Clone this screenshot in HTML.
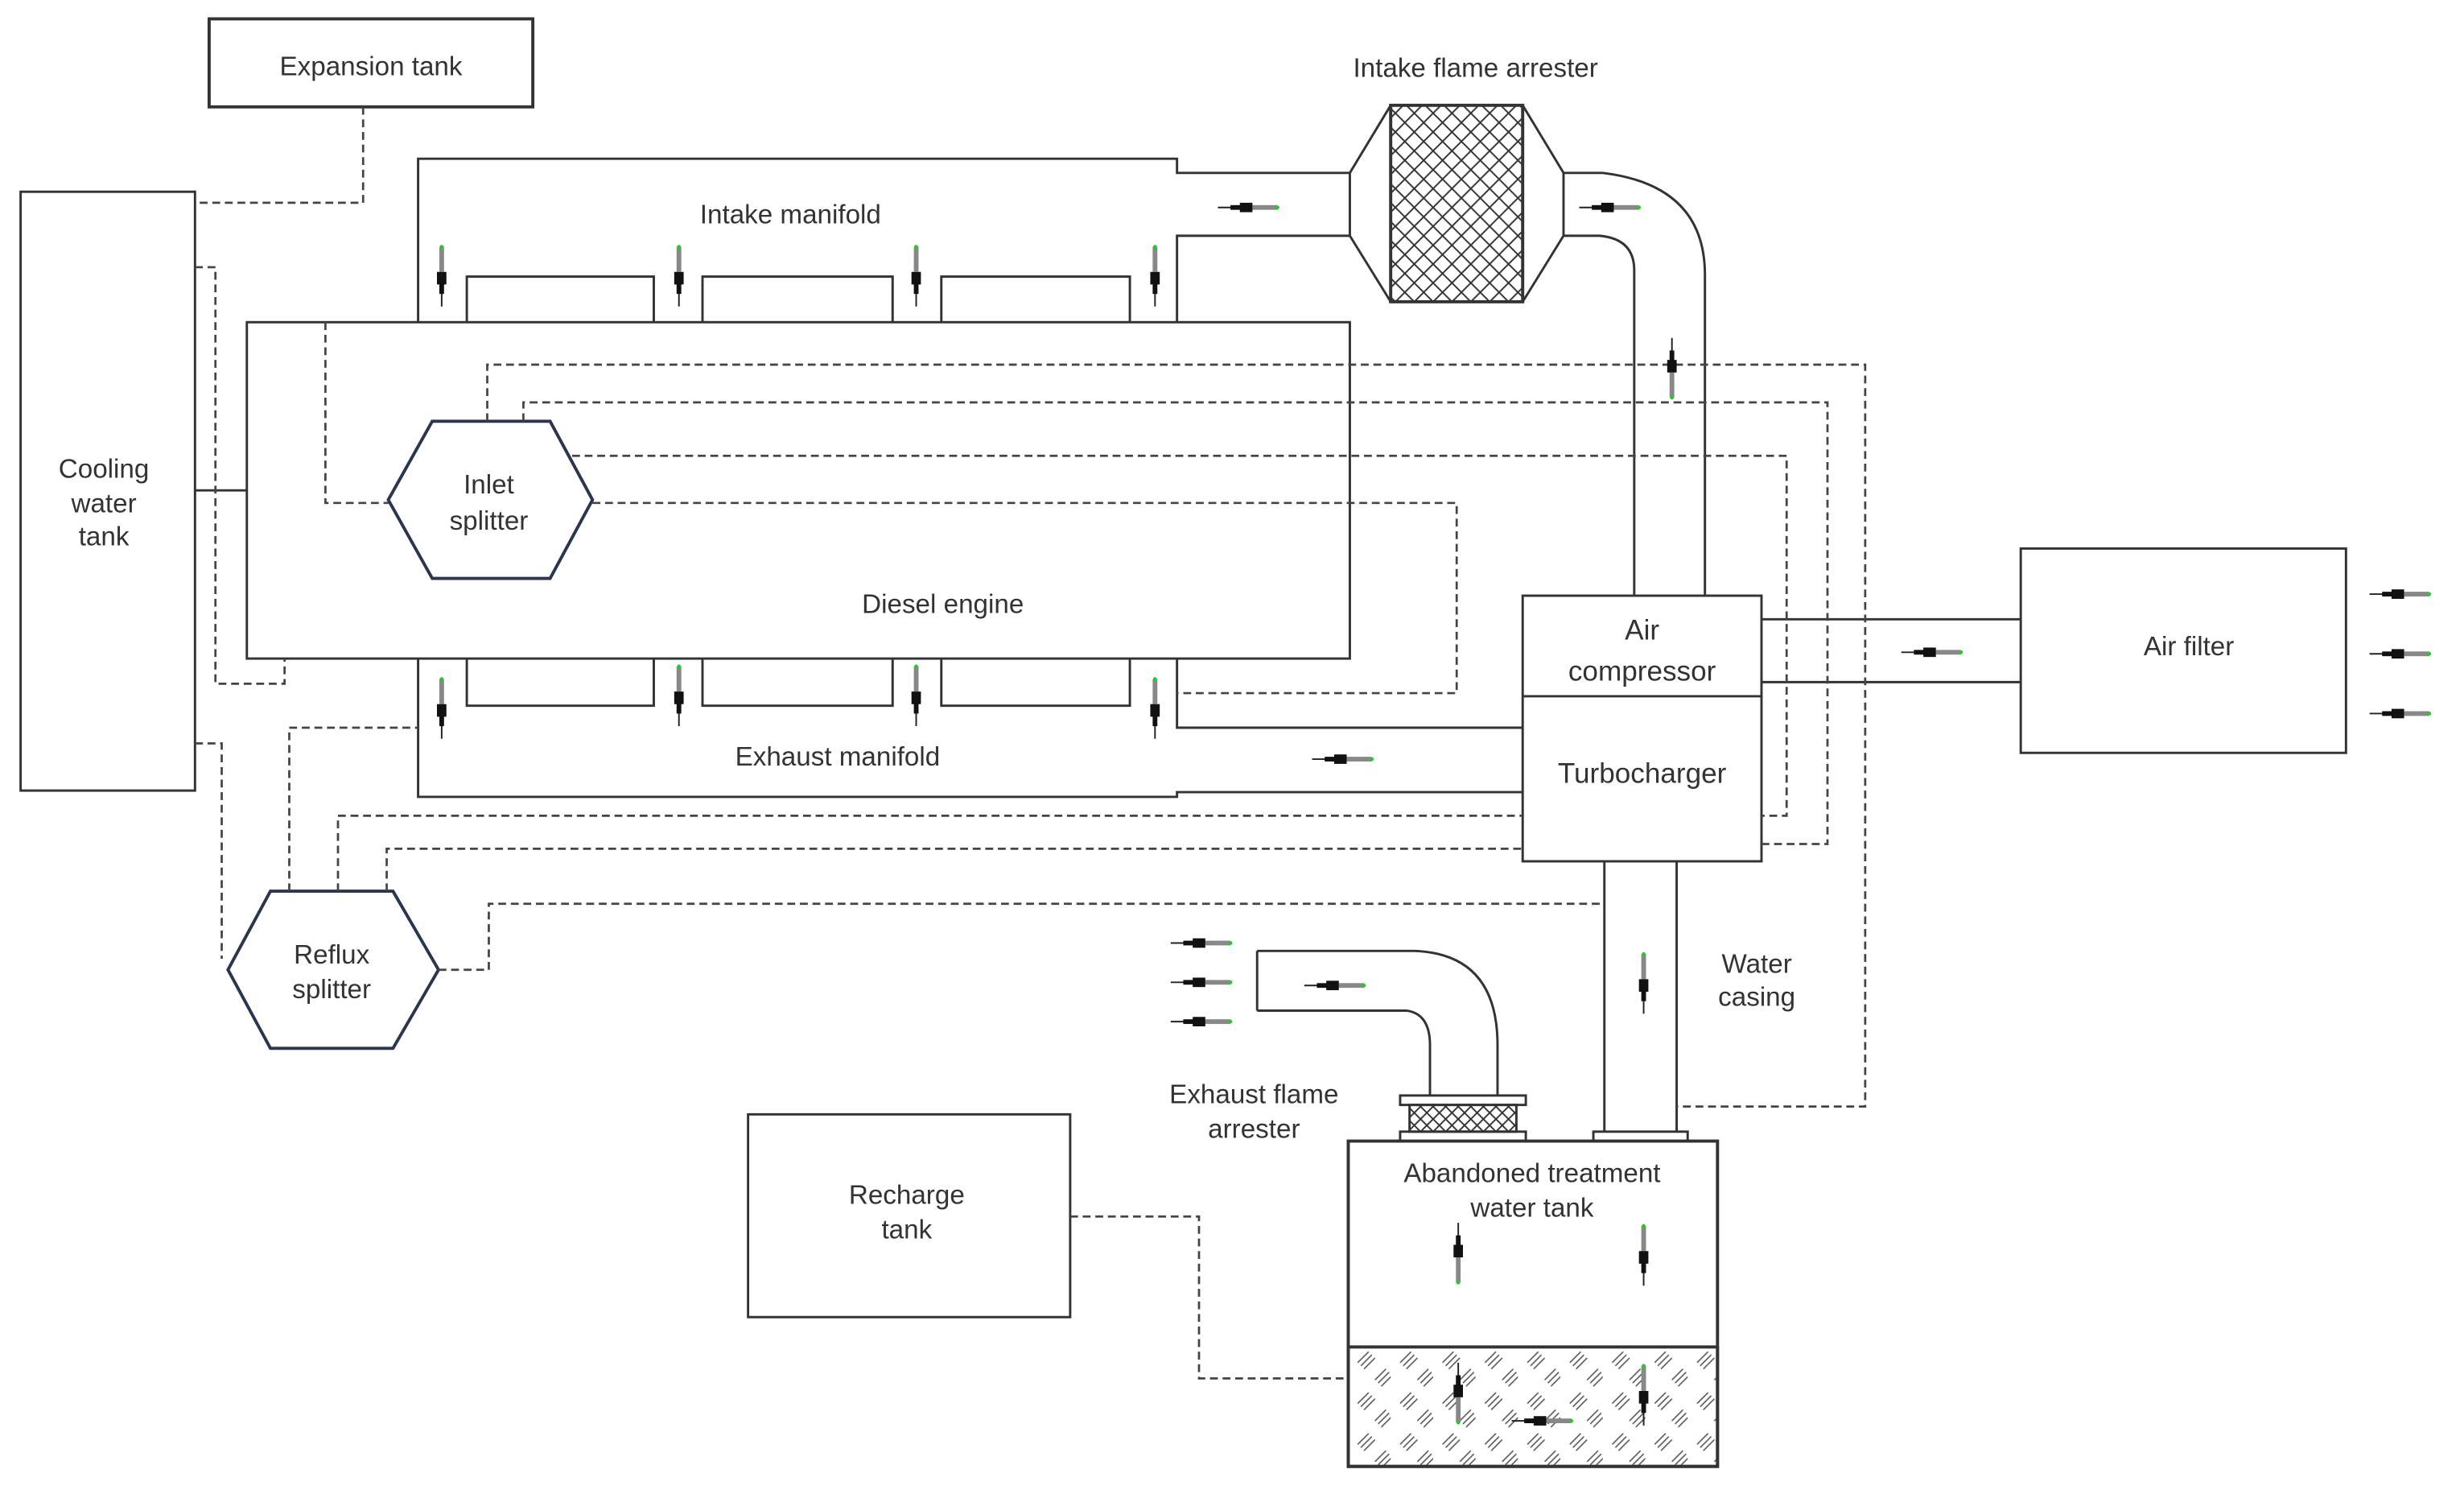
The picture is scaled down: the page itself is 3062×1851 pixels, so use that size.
<!DOCTYPE html>
<html><head><meta charset="utf-8"><style>
html,body{margin:0;padding:0;background:#fff;}
svg{display:block;}
text{font-family:"Liberation Sans",sans-serif;font-size:17px;fill:#333;text-anchor:middle;}
</style></head><body>
<svg width="3062" height="1851" viewBox="0 0 1568 948" xmlns="http://www.w3.org/2000/svg">
<defs>
<g id="s">
 <line x1="0" y1="0" x2="10" y2="0" stroke="#222" stroke-width="1"/>
 <rect x="8" y="-1.5" width="14" height="3" fill="#111"/>
 <rect x="14" y="-3" width="8" height="6" fill="#111"/>
 <rect x="22" y="-1.5" width="16" height="3" fill="#888"/>
 <circle cx="38" cy="0" r="1.2" fill="#2c2"/>
</g>
<pattern id="mesh" width="12" height="12" patternUnits="userSpaceOnUse">
 <path d="M0 0L12 12M12 0L0 12" stroke="#333" stroke-width="1"/>
</pattern>
<pattern id="mesh2" width="8" height="8" patternUnits="userSpaceOnUse">
 <path d="M0 0L8 8M8 0L0 8" stroke="#333" stroke-width="1"/>
</pattern>
<pattern id="hatch" width="27" height="26" patternUnits="userSpaceOnUse" x="858" y="857">
 <g stroke="#555" stroke-width="0.8">
 <path d="M6 10l7-7M8 12l7-7M10 14l7-7"/>
 <path d="M19 23l7-7M21 25l7-7M17 21l7-7"/>
 </g>
</pattern>
</defs>
<g fill="none" stroke="#333" stroke-width="1.5">
<rect x="133" y="12" width="206" height="56" stroke-width="2"/>
<rect x="13" y="122" width="111" height="381"/>
<rect x="157" y="205" width="702" height="214"/>
<rect x="969" y="379" width="152" height="169"/>
<line x1="969" y1="443" x2="1121" y2="443"/>
<rect x="1286" y="349" width="207" height="130"/>
<rect x="476" y="709" width="205" height="129"/>
<rect x="858" y="726" width="235" height="207" stroke-width="2"/>
<rect x="858" y="857" width="235" height="76" fill="url(#hatch)" stroke-width="2"/>
<polygon points="247,318 275,268 350,268 377,318 350,368 275,368" stroke="#2a3550" stroke-width="2"/>
<polygon points="145,617 172,567 250,567 279,617 250,667 172,667" stroke="#2a3550" stroke-width="2"/>
<path d="M266 205V101H749V110H859"/>
<path d="M749 205V150H859"/>
<path d="M297 205V176H416V205M447 205V176H568V205M599 205V176H719V205"/>
<path d="M266 419V507H749V504H969"/>
<path d="M749 419V463H969"/>
<path d="M297 419V449H416V419M447 419V449H568V419M599 419V449H719V419"/>
<line x1="124" y1="312" x2="157" y2="312"/>
<path d="M859 110V150M859 110L885 67M859 150L885 192M969 67L995 110M969 192L995 150M995 110V150"/>
<rect x="885" y="67" width="84" height="125" fill="url(#mesh)" stroke-width="2"/>
<path d="M995 110H1020Q1085 118 1085 175V379"/>
<path d="M995 150H1018Q1040 152 1040 172V379"/>
<path d="M1121 394H1286M1121 434H1286"/>
<path d="M1021 548V720M1067 548V720"/>
<rect x="1014" y="720" width="60" height="6"/>
<path d="M800 605H900Q953 607 953 665V697"/>
<path d="M800 643H895Q910 645 910 665V697"/>
<path d="M800 605V643"/>
<rect x="891" y="697" width="80" height="6"/>
<rect x="897" y="703" width="68" height="17" fill="url(#mesh2)"/>
<rect x="891" y="720" width="80" height="6"/>
</g>
<g fill="none" stroke="#444" stroke-width="1.4" stroke-dasharray="5,3">
<path d="M231 68V129H124"/>
<path d="M124 170H137V435H181V419"/>
<path d="M124 473H141V610"/>
<path d="M207 205V320H247"/>
<path d="M310 268V232H1187V704H1067"/>
<path d="M333 268V256H1163V537H1121"/>
<path d="M364 290H1137V519H1121"/>
<path d="M377 320H927V441H749"/>
<path d="M184 567V463H266"/>
<path d="M215 567V519H969"/>
<path d="M246 567V540H969"/>
<path d="M279 617H311V575H1021"/>
<path d="M681 774H763V877H858"/>
</g>
<g>
<use href="#s" transform="translate(281,195) rotate(-90)"/>
<use href="#s" transform="translate(432,195) rotate(-90)"/>
<use href="#s" transform="translate(583,195) rotate(-90)"/>
<use href="#s" transform="translate(735,195) rotate(-90)"/>
<use href="#s" transform="translate(281,470) rotate(-90)"/>
<use href="#s" transform="translate(432,462) rotate(-90)"/>
<use href="#s" transform="translate(583,462) rotate(-90)"/>
<use href="#s" transform="translate(735,470) rotate(-90)"/>
<use href="#s" transform="translate(775,132)"/>
<use href="#s" transform="translate(1005,132)"/>
<use href="#s" transform="translate(1064,215) rotate(90)"/>
<use href="#s" transform="translate(835,483)"/>
<use href="#s" transform="translate(1210,415)"/>
<use href="#s" transform="translate(1508,378)"/>
<use href="#s" transform="translate(1508,416)"/>
<use href="#s" transform="translate(1508,454)"/>
<use href="#s" transform="translate(1046,645) rotate(-90)"/>
<use href="#s" transform="translate(745,600)"/>
<use href="#s" transform="translate(745,625)"/>
<use href="#s" transform="translate(745,650)"/>
<use href="#s" transform="translate(830,627)"/>
<use href="#s" transform="translate(928,778) rotate(90)"/>
<use href="#s" transform="translate(1046,818) rotate(-90)"/>
<use href="#s" transform="translate(928,867) rotate(90)"/>
<use href="#s" transform="translate(1046,907) rotate(-90)"/>
<use href="#s" transform="translate(962,904)"/>
</g>
<text x="236" y="48">Expansion tank</text>
<text x="66" y="304">Cooling</text>
<text x="66" y="326">water</text>
<text x="66" y="347">tank</text>
<text x="503" y="142">Intake manifold</text>
<text x="939" y="49">Intake flame arrester</text>
<text x="311" y="314">Inlet</text>
<text x="311" y="337">splitter</text>
<text x="600" y="390">Diesel engine</text>
<text x="533" y="487">Exhaust manifold</text>
<text x="1045" y="407" style="font-size:18px">Air</text>
<text x="1045" y="433" style="font-size:18px">compressor</text>
<text x="1045" y="498" style="font-size:18px">Turbocharger</text>
<text x="1393" y="417">Air filter</text>
<text x="211" y="613">Reflux</text>
<text x="211" y="635">splitter</text>
<text x="1118" y="619">Water</text>
<text x="1118" y="640">casing</text>
<text x="798" y="702">Exhaust flame</text>
<text x="798" y="724">arrester</text>
<text x="975" y="752">Abandoned treatment</text>
<text x="975" y="774">water tank</text>
<text x="577" y="766">Recharge</text>
<text x="577" y="788">tank</text>
</svg>
</body></html>
